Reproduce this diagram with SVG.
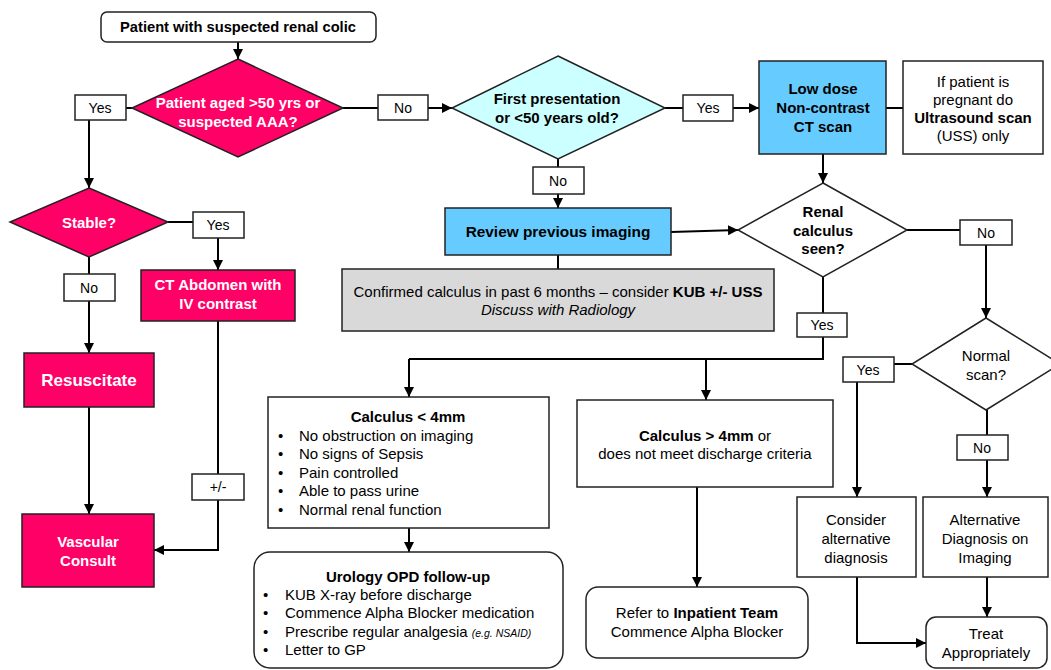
<svg xmlns="http://www.w3.org/2000/svg" width="1051" height="670" viewBox="0 0 1051 670">
<style>
text{font-family:"Liberation Sans",Arial,sans-serif;font-size:15px;fill:#000;text-anchor:middle}
.b{font-weight:bold}
.w{fill:#fff;font-weight:bold;font-size:15px}
.l{text-anchor:start}
.t{font-size:14px}
.box{fill:#fff;stroke:#222;stroke-width:1.5}
.pink{fill:#FF0066;stroke:#222;stroke-width:1.5}
.blue{fill:#66CCFF;stroke:#222;stroke-width:1.5}
.cyan{fill:#CCFFFF;stroke:#222;stroke-width:1.5}
.grey{fill:#D9D9D9;stroke:#222;stroke-width:1.5}
.lbl{fill:#fff;stroke:#222;stroke-width:1.5}
.c{fill:none;stroke:#000;stroke-width:2}
.a{marker-end:url(#ah)}
</style>
<defs>
<marker id="ah" markerUnits="userSpaceOnUse" markerWidth="10" markerHeight="10" refX="10" refY="5" orient="auto" viewBox="0 0 10 10">
<path d="M0,0 L10,5 L0,10 z" fill="#000"/>
</marker>
</defs>

<g id="connectors">
<line class="c a" x1="238" y1="42" x2="238" y2="59"/>
<line class="c" x1="132" y1="108" x2="126" y2="108"/>
<line class="c a" x1="89" y1="120" x2="89" y2="188"/>
<line class="c" x1="343" y1="108" x2="378" y2="108"/>
<line class="c a" x1="428" y1="108" x2="452" y2="108"/>
<line class="c" x1="665" y1="108" x2="683" y2="108"/>
<line class="c a" x1="733" y1="108" x2="759" y2="108"/>
<line class="c" x1="886" y1="108" x2="903" y2="108"/>
<line class="c" x1="558" y1="159" x2="558" y2="167"/>
<line class="c a" x1="558" y1="194" x2="558" y2="208"/>
<line class="c a" x1="671" y1="232" x2="738" y2="230"/>
<line class="c" x1="558" y1="255" x2="558" y2="269"/>
<line class="c a" x1="823" y1="154" x2="823" y2="183"/>
<line class="c" x1="907" y1="230" x2="960" y2="230"/>
<line class="c a" x1="986" y1="245" x2="986" y2="318"/>
<line class="c" x1="912" y1="364" x2="894" y2="364"/>
<line class="c a" x1="857" y1="382" x2="857" y2="497"/>
<line class="c" x1="987" y1="410" x2="987" y2="435"/>
<line class="c a" x1="987" y1="460" x2="987" y2="497"/>
<line class="c a" x1="987" y1="577" x2="987" y2="617"/>
<polyline class="c a" points="857,577 857,643 926,643"/>
<line class="c" x1="823" y1="277" x2="823" y2="313"/>
<polyline class="c" points="823,337 823,359 409,359"/>
<line class="c a" x1="409" y1="359" x2="409" y2="397"/>
<line class="c a" x1="706" y1="359" x2="706" y2="400"/>
<line class="c a" x1="409" y1="528" x2="409" y2="552"/>
<line class="c a" x1="697" y1="487" x2="697" y2="587"/>
<line class="c" x1="168" y1="222" x2="193" y2="222"/>
<line class="c a" x1="218" y1="238" x2="218" y2="270"/>
<line class="c" x1="89" y1="257" x2="89" y2="274"/>
<line class="c a" x1="89" y1="301" x2="89" y2="353"/>
<line class="c a" x1="89" y1="407" x2="89" y2="514"/>
<line class="c" x1="218" y1="321" x2="218" y2="474"/>
<polyline class="c a" points="218,500 218,550 154,550"/>
</g>

<g id="start">
<rect class="box" x="101" y="12" width="275" height="30" rx="6"/>
<text class="b" x="238" y="32" style="font-size:14.7px">Patient with suspected renal colic</text>
</g>

<g id="d-age">
<polygon class="pink" points="238,59 343,108 238,157 132,108"/>
<text class="w" x="238" y="108">Patient aged &gt;50 yrs or</text>
<text class="w" x="238" y="127">suspected AAA?</text>
</g>
<g id="l-yes1"><rect class="lbl" x="75" y="95" width="51" height="25"/><text class="t" x="100" y="113">Yes</text></g>
<g id="l-no1"><rect class="lbl" x="378" y="95" width="50" height="25"/><text class="t" x="403" y="113">No</text></g>

<g id="d-first">
<polygon class="cyan" points="558,56 665,108 558,159 452,108"/>
<text class="b" x="557" y="104">First presentation</text>
<text class="b" x="557" y="123">or &lt;50 years old?</text>
</g>
<g id="l-yes2"><rect class="lbl" x="683" y="95" width="50" height="26"/><text class="t" x="708" y="113">Yes</text></g>

<g id="ct">
<rect class="blue" x="759" y="61" width="127" height="93"/>
<text class="b" x="823" y="94">Low dose</text>
<text class="b" x="823" y="113">Non-contrast</text>
<text class="b" x="823" y="132">CT scan</text>
</g>

<g id="pregnant">
<rect class="box" x="903" y="61" width="140" height="93"/>
<text x="973" y="87">If patient is</text>
<text x="973" y="105">pregnant do</text>
<text class="b" x="973" y="123">Ultrasound scan</text>
<text x="973" y="141">(USS) only</text>
</g>

<g id="l-no2"><rect class="lbl" x="533" y="167" width="51" height="27"/><text class="t" x="558" y="186">No</text></g>

<g id="review">
<rect class="blue" x="445" y="208" width="226" height="47"/>
<text class="b" x="558" y="237" style="font-size:15.4px">Review previous imaging</text>
</g>

<g id="confirmed">
<rect class="grey" x="342" y="269" width="432" height="62"/>
<text x="558" y="297">Confirmed calculus in past 6 months – consider <tspan class="b">KUB +/- USS</tspan></text>
<text x="558" y="315" font-style="italic">Discuss with Radiology</text>
</g>

<g id="d-renal">
<polygon class="box" points="823,183 907,230 823,277 738,230"/>
<text class="b" x="823" y="217">Renal</text>
<text class="b" x="823" y="236">calculus</text>
<text class="b" x="823" y="254">seen?</text>
</g>
<g id="l-no3"><rect class="lbl" x="960" y="220" width="52" height="25"/><text class="t" x="986" y="238">No</text></g>

<g id="d-normal">
<polygon class="box" points="986,318 1060,364 986,410 912,364"/>
<text x="986" y="361">Normal</text>
<text x="986" y="380">scan?</text>
</g>
<g id="l-yes4"><rect class="lbl" x="843" y="357" width="51" height="25"/><text class="t" x="868" y="375">Yes</text></g>
<g id="l-no4"><rect class="lbl" x="957" y="435" width="51" height="25"/><text class="t" x="982" y="453">No</text></g>
<g id="l-yes3"><rect class="lbl" x="797" y="313" width="50" height="24"/><text class="t" x="822" y="330">Yes</text></g>

<g id="consider">
<rect class="box" x="797" y="497" width="119" height="80"/>
<text x="856" y="525">Consider</text>
<text x="856" y="544">alternative</text>
<text x="856" y="563">diagnosis</text>
</g>
<g id="altdiag">
<rect class="box" x="923" y="497" width="125" height="80"/>
<text x="985" y="525">Alternative</text>
<text x="985" y="544">Diagnosis on</text>
<text x="985" y="563">Imaging</text>
</g>
<g id="treat">
<rect class="box" x="926" y="617" width="121" height="51" rx="10"/>
<text x="986" y="639">Treat</text>
<text x="986" y="658">Appropriately</text>
</g>

<g id="calc-small">
<rect class="box" x="268" y="397" width="281" height="131"/>
<text class="b" x="408" y="422">Calculus  &lt; 4mm</text>
<text class="l" x="278" y="441">•</text><text class="l" x="299" y="441">No obstruction on imaging</text>
<text class="l" x="278" y="459">•</text><text class="l" x="299" y="459">No signs of Sepsis</text>
<text class="l" x="278" y="478">•</text><text class="l" x="299" y="478">Pain controlled</text>
<text class="l" x="278" y="496">•</text><text class="l" x="299" y="496">Able to pass urine</text>
<text class="l" x="278" y="515">•</text><text class="l" x="299" y="515">Normal renal function</text>
</g>

<g id="urology">
<rect class="box" x="254" y="552" width="309" height="116" rx="16"/>
<text class="b" x="408" y="582">Urology  OPD follow-up</text>
<text class="l" x="263" y="600">•</text><text class="l" x="285" y="600">KUB X-ray before discharge</text>
<text class="l" x="263" y="618">•</text><text class="l" x="285" y="618">Commence Alpha Blocker medication</text>
<text class="l" x="263" y="637">•</text><text class="l" x="285" y="637">Prescribe regular analgesia <tspan font-style="italic" font-size="10.5px">(e.g. NSAID)</tspan></text>
<text class="l" x="263" y="655">•</text><text class="l" x="285" y="655">Letter to GP</text>
</g>

<g id="calc-large">
<rect class="box" x="577" y="400" width="256" height="87"/>
<text x="705" y="441"><tspan class="b">Calculus  &gt; 4mm</tspan> or</text>
<text x="705" y="459">does not meet discharge criteria</text>
</g>

<g id="refer">
<rect class="box" x="586" y="587" width="222" height="71" rx="12"/>
<text x="697" y="618">Refer to <tspan class="b">Inpatient  Team</tspan></text>
<text x="697" y="637">Commence Alpha Blocker</text>
</g>

<g id="d-stable">
<polygon class="pink" points="89,188 168,222 89,257 10,222"/>
<text class="w" x="89" y="228">Stable?</text>
</g>
<g id="l-yes5"><rect class="lbl" x="193" y="212" width="51" height="26"/><text class="t" x="218" y="230">Yes</text></g>
<g id="l-no5"><rect class="lbl" x="64" y="274" width="51" height="27"/><text class="t" x="89" y="293">No</text></g>

<g id="ct-abd">
<rect class="pink" x="141" y="270" width="154" height="51"/>
<text class="w" x="218" y="290">CT Abdomen  with</text>
<text class="w" x="218" y="309">IV contrast</text>
</g>

<g id="resus">
<rect class="pink" x="24" y="353" width="130" height="54"/>
<text class="w" x="89" y="386" style="font-size:17px">Resuscitate</text>
</g>

<g id="vascular">
<rect class="pink" x="22" y="514" width="132" height="73"/>
<text class="w" x="88" y="547">Vascular</text>
<text class="w" x="88" y="566">Consult</text>
</g>
<g id="l-pm"><rect class="lbl" x="192" y="474" width="52" height="26"/><text class="t" x="218" y="492">+/-</text></g>
</svg>
